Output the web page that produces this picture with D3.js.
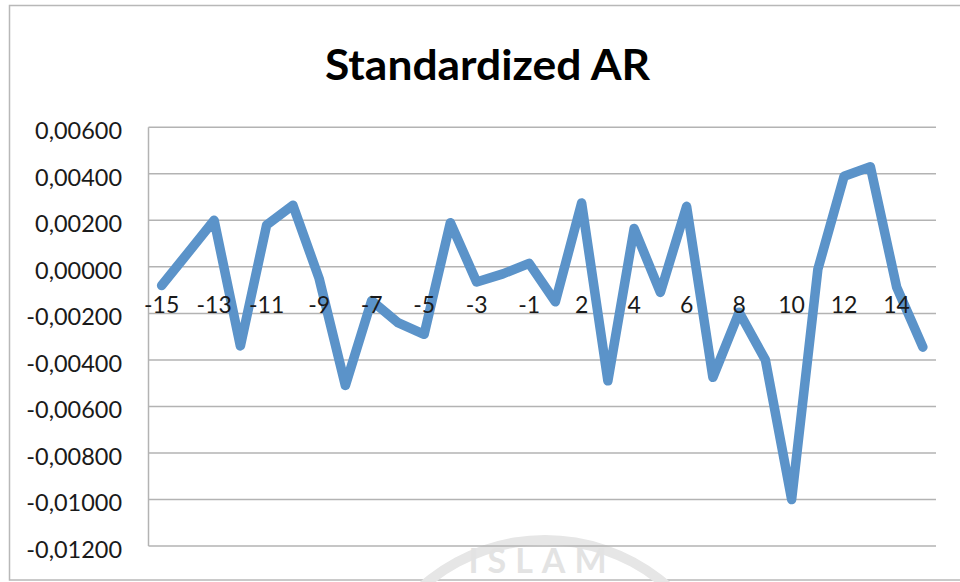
<!DOCTYPE html>
<html>
<head>
<meta charset="utf-8">
<script src="https://cdn.jsdelivr.net/npm/d3@7"></script>
<style>
  body { margin: 0; background: #fff; }
  svg { display: block; font-family: Lato, "Open Sans", sans-serif; }
  .grid line { stroke: #b3b3b3; stroke-width: 1.5px; }
  .lbl { fill: #1a1a1a; font-size: 23px; }
</style>
</head>
<body>
<svg width="960" height="582"></svg>
<script>
(function() {
  // event days (no day 0 in the source table)
  var days = [-15, -14, -13, -12, -11, -10, -9, -8, -7, -6, -5, -4, -3, -2, -1,
              1, 2, 3, 4, 5, 6, 7, 8, 9, 10, 11, 12, 13, 14, 15];

  var standardizedAR = [-0.0008, 0.0006, 0.0020, -0.0034, 0.0018, 0.00265, -0.0005, -0.0051, -0.00145, -0.0024,
                        -0.0029, 0.0019, -0.00065, -0.0003, 0.00015, -0.0015, 0.00275, -0.0049, 0.00165, -0.0011,
                        0.0026, -0.00475, -0.00195, -0.0040, -0.0100, -0.0001, 0.0039, 0.0043, -0.00087, -0.00345];

  var yTicks = [0.006, 0.004, 0.002, 0, -0.002, -0.004, -0.006, -0.008, -0.010, -0.012];

  var svg = d3.select('svg');

  var left = 148.5, right = 936, top = 127.3, bottom = 546;

  // outer chart frame
  svg.append('rect')
    .attr('x', 9.5).attr('y', 5.5)
    .attr('width', 960).attr('height', 574.5)
    .attr('fill', '#fff')
    .attr('stroke', '#b8b8b8')
    .attr('stroke-width', 1.5);

  // faint watermark at the bottom of the page
  svg.append('path')
    .attr('d', d3.arc()({innerRadius: 180, outerRadius: 190, startAngle: -Math.PI * 0.42, endAngle: Math.PI * 0.42}))
    .attr('transform', 'translate(545,725)')
    .attr('fill', '#e6e6e6');
  svg.append('text')
    .attr('x', 542).attr('y', 573)
    .attr('text-anchor', 'middle')
    .attr('font-size', 34)
    .attr('font-weight', 'bold')
    .attr('fill', '#e3e3e3')
    .attr('letter-spacing', 9)
    .text('ISLAM');

  var x = d3.scaleBand().domain(days).range([left, right]);
  var y = d3.scaleLinear().domain([-0.012, 0.006]).range([bottom, top]);

  var fmt = function(v) {
    return d3.format('.5f')(v).replace('.', ',').replace('\u2212', '-');
  };

  // horizontal gridlines
  svg.append('g').attr('class', 'grid')
    .selectAll('line').data(yTicks).enter().append('line')
    .attr('x1', left).attr('x2', right)
    .attr('y1', function(d) { return y(d); })
    .attr('y2', function(d) { return y(d); });

  // value axis line
  svg.append('line')
    .attr('x1', left).attr('x2', left)
    .attr('y1', top).attr('y2', bottom)
    .attr('stroke', '#b3b3b3').attr('stroke-width', 1.5);

  svg.append('g').selectAll('text').data(yTicks).enter().append('text')
    .attr('class', 'lbl')
    .attr('text-anchor', 'end')
    .attr('transform', function(d) { return 'translate(122,' + (y(d) + 12) + ') scale(1.02,1)'; })
    .text(fmt);

  // the series
  var line = d3.line()
    .x(function(d, i) { return x(days[i]) + x.bandwidth() / 2; })
    .y(function(d) { return y(d); });

  svg.append('path')
    .datum(standardizedAR)
    .attr('d', line)
    .attr('fill', 'none')
    .attr('stroke', '#5b93c9')
    .attr('stroke-width', 9.5)
    .attr('stroke-linejoin', 'round')
    .attr('stroke-linecap', 'round');

  // category labels sit under the zero line, every other one shown, above the series
  svg.append('g').selectAll('text')
    .data(days.filter(function(d, i) { return i % 2 === 0; }))
    .enter().append('text')
    .attr('class', 'lbl')
    .attr('text-anchor', 'middle')
    .attr('x', function(d) { return x(d) + x.bandwidth() / 2; })
    .attr('y', y(0) + 46.5)
    .text(function(d) { return d; });

  // title
  svg.append('text')
    .attr('x', 487.5).attr('y', 80)
    .attr('text-anchor', 'middle')
    .attr('font-size', 42)
    .attr('font-weight', 'bold')
    .attr('fill', '#000')
    .attr('textLength', 325)
    .attr('lengthAdjust', 'spacingAndGlyphs')
    .text('Standardized AR');
}).call(this);
</script>
</body>
</html>
